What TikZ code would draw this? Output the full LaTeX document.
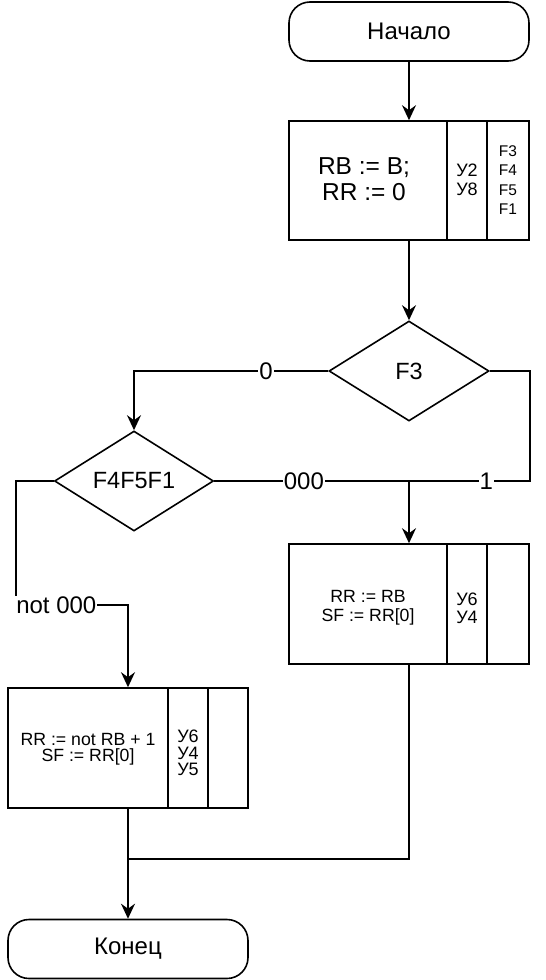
\documentclass[tikz,border=0pt]{standalone}
\usepackage{fontspec}
\setmainfont{Liberation Sans}
\usetikzlibrary{shapes.geometric,arrows.meta,calc}
\newcommand{\fs}[2]{\fontsize{#1}{#2}\selectfont}
\begin{document}
\begin{tikzpicture}[x=1pt,y=-1pt,line width=1.6pt,
  term/.style={draw,rounded corners=21pt,minimum width=240pt,minimum height=59pt,inner sep=0pt,font=\fs{24}{28}},
  frame/.style={draw,minimum width=240pt,minimum height=119pt,inner sep=0pt},
  cell/.style={inner sep=0pt,align=center},
  dec/.style={draw,diamond,minimum width=160pt,minimum height=100pt,inner sep=0pt,font=\fs{23.5}{28}},
  arr/.style={-{Stealth[length=15pt,width=14pt,inset=5pt]}},
  lbl/.style={fill=white,inner sep=1pt,font=\fs{24}{28}}]
\useasboundingbox (0,0) rectangle (546,980);

\node[term] (start) at (409,31.5) {Начало};

% box 1
\node[frame] (b1) at (409,180.5) {};
\node[cell,font=\fs{24.5}{26.5}] (b1a) at (364,179) {RB := B;\\RR := 0};
\node[cell,font=\fs{18}{18.5}] (b1b) at (467,180) {У2\\У8};
\node[cell,font=\fs{15.5}{19.5}] (b1c) at (508,180) {F3\\F4\\F5\\F1};
\path (b1.north west) ++(159,0) coordinate (d1t) (b1.south west) ++(159,0) coordinate (d1b);
\draw (d1t) -- (d1b);
\draw ([xshift=40pt]d1t) -- ([xshift=40pt]d1b);

% decisions
\node[dec] (f3) at (409,371) {F3};
\node[dec,minimum width=159pt] (f4) at (134,481) {F4F5F1};

% box 2
\node[frame,minimum height=120pt] (b2) at (409,604) {};
\node[cell,font=\fs{17.7}{19}] (b2a) at (368,607.5) {RR := RB\\SF := RR[0]};
\node[cell,font=\fs{18}{18}] (b2b) at (467,608) {У6\\У4};
\path (b2.north west) ++(159,0) coordinate (d2t) (b2.south west) ++(159,0) coordinate (d2b);
\draw (d2t) -- (d2b);
\draw ([xshift=40pt]d2t) -- ([xshift=40pt]d2b);

% box 3
\node[frame,minimum height=120pt] (b3) at (128,748) {};
\node[cell,font=\fs{17.7}{16.5}] (b3a) at (88,749) {RR := not RB + 1\\SF := RR[0]};
\node[cell,font=\fs{18}{16.5}] (b3b) at (188,753) {У6\\У4\\У5};
\path (b3.north west) ++(161,0) coordinate (d3t) (b3.south west) ++(161,0) coordinate (d3b);
\draw (d3t) -- (d3b);
\draw ([xshift=40pt]d3t) -- ([xshift=40pt]d3b);

\node[term] (end) at (128,949) {Конец};

% connectors
\draw[arr] (start) -- (b1);
\draw[arr] (b1) -- (f3);
\draw[arr] (f3.west) -- node[lbl,pos=0.32]{0} (f3.west -| f4.north) -- (f4.north);
\draw[arr] (f4.east) -- node[lbl,pos=0.46]{000} (f4.east -| b2.north) -- (b2.north);
\draw (f3.east) -- (f3.east -| b2.east) -- (f4.east -| b2.east) -- node[lbl,pos=0.36]{1} (f4.east -| b2.north);
\coordinate (nl) at (16,605);
\draw[arr] (f4.west) -| (nl) -- node[lbl,pos=0.36]{not 000} (nl -| b3.north) -- (b3.north);
\coordinate (mj) at (409,859);
\draw (b2.south) -- (mj) -- (mj -| b3.south);
\draw[arr] (b3.south) -- (end.north);
\end{tikzpicture}
\end{document}
